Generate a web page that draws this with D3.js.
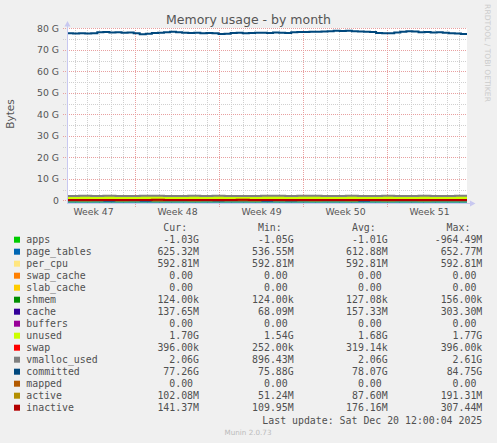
<!DOCTYPE html>
<html>
<head>
<meta charset="utf-8">
<script src="https://cdn.jsdelivr.net/npm/d3@7"></script>
<style>
  html, body { margin: 0; padding: 0; background: #f0f0f0; }
  svg { display: block; }
</style>
</head>
<body>
<div id="chart"></div>
<script>
// --- data (values in G) ---
const committed = [
  77.7, 77.6, 77.7, 77.6, 77.8, 78.2, 78.3, 78.1, 78.2, 78.0,
  78.1, 77.8, 77.3, 77.5, 77.9, 78.0, 78.2, 78.5, 78.2, 78.0,
  77.9, 78.0, 77.8, 77.9, 77.8, 77.4, 77.5, 77.9, 78.0, 77.8,
  77.9, 78.0, 78.0, 77.9, 78.1, 78.0, 77.9, 78.2, 78.3, 78.3,
  78.4, 78.5, 78.6, 78.7, 78.9, 78.8, 78.9, 78.7, 78.6, 78.5,
  78.3, 77.9, 77.7, 77.8, 78.1, 78.5, 78.7, 78.6, 78.2, 78.3,
  78.1, 78.2, 78.0, 77.8, 77.6, 77.4, 77.3
];
const apps = [
  -1.01, -1.00, -1.02, -0.99, -1.01, -1.03, -1.00, -0.98, -1.02, -1.01,
  -1.04, -1.00, -0.99, -1.02, -1.01, -1.03, -1.00, -1.02, -0.97, -1.01,
  -1.04, -1.00, -1.02, -1.01, -0.99, -1.03, -1.01, -1.00, -1.02, -1.05,
  -1.01, -1.00, -1.02, -1.03
];
const pageTables = [
  0.61, 0.62, 0.60, 0.63, 0.61, 0.62, 0.64, 0.60, 0.61, 0.63,
  0.62, 0.61, 0.64, 0.62, 0.60, 0.61, 0.63, 0.62, 0.65, 0.61,
  0.60, 0.62, 0.61, 0.63, 0.62, 0.60, 0.61, 0.62, 0.64, 0.61,
  0.62, 0.60, 0.61, 0.63
];
const perCpu = [
  0.593, 0.593, 0.593, 0.593, 0.593, 0.593, 0.593, 0.593, 0.593, 0.593,
  0.593, 0.593, 0.593, 0.593, 0.593, 0.593, 0.593, 0.593, 0.593, 0.593,
  0.593, 0.593, 0.593, 0.593, 0.593, 0.593, 0.593, 0.593, 0.593, 0.593,
  0.593, 0.593, 0.593, 0.593
];
const cache = [
  0.14, 0.16, 0.15, 0.18, 0.14, 0.13, 0.16, 0.20, 0.15, 0.14,
  0.17, 0.15, 0.16, 0.13, 0.30, 0.15, 0.14, 0.16, 0.15, 0.17,
  0.14, 0.15, 0.16, 0.14, 0.18, 0.15, 0.13, 0.16, 0.15, 0.14,
  0.17, 0.15, 0.14, 0.14
];
const unused = [
  1.68, 1.70, 1.66, 1.72, 1.69, 1.65, 1.70, 1.74, 1.67, 1.68,
  1.71, 1.66, 1.69, 1.64, 1.55, 1.70, 1.68, 1.72, 1.67, 1.69,
  1.71, 1.66, 1.68, 1.70, 1.65, 1.69, 1.72, 1.67, 1.68, 1.70,
  1.66, 1.69, 1.71, 1.70
];
const vmallocUsed = [
  2.05, 2.07, 2.04, 2.10, 2.06, 2.03, 2.08, 2.12, 2.05, 2.06,
  2.09, 2.04, 2.07, 2.02, 2.05, 2.06, 2.08, 2.10, 2.05, 2.07,
  2.09, 2.04, 2.06, 2.08, 2.03, 2.06, 2.10, 2.05, 2.06, 2.08,
  2.04, 2.06, 2.09, 2.06
];
const mapped = [
  0, 0, 0, 0, 0, 0, 0, 0, 0, 0, 0, 0, 0, 0, 0, 0, 0,
  0, 0, 0, 0, 0, 0, 0, 0, 0, 0, 0, 0, 0, 0, 0, 0, 0
];
const active = [
  0.09, 0.08, 0.10, 0.09, 0.07, 0.09, 0.11, 0.08, 0.09, 0.10,
  0.08, 0.09, 0.07, 0.09, 0.19, 0.08, 0.09, 0.10, 0.08, 0.09,
  0.07, 0.09, 0.10, 0.08, 0.09, 0.09, 0.08, 0.10, 0.09, 0.08,
  0.09, 0.10, 0.09, 0.10
];
const inactive = [
  0.17, 0.18, 0.16, 0.19, 0.17, 0.15, 0.18, 0.21, 0.17, 0.16,
  0.19, 0.17, 0.18, 0.15, 0.31, 0.17, 0.16, 0.18, 0.17, 0.19,
  0.16, 0.17, 0.18, 0.16, 0.20, 0.17, 0.15, 0.18, 0.17, 0.16,
  0.19, 0.17, 0.15, 0.14
];
const yTicks = [0, 10, 20, 30, 40, 50, 60, 70, 80];

// legend
const legendNames = ["apps", "page_tables", "per_cpu", "swap_cache", "slab_cache", "shmem", "cache",
  "buffers", "unused", "swap", "vmalloc_used", "committed", "mapped", "active", "inactive"];
const legendColors = ["#00cc00", "#0066b3", "#ffe680", "#ff8000", "#ffcc00", "#008f00", "#330099",
  "#990099", "#ccff00", "#ff0000", "#808080", "#00487d", "#b35a00", "#b38f00", "#b30000"];
const curVals = ["-1.03G", "625.32M", "592.81M", "0.00", "0.00", "124.00k", "137.65M",
  "0.00", "1.70G", "396.00k", "2.06G", "77.26G", "0.00", "102.08M", "141.37M"];
const minVals = ["-1.05G", "536.55M", "592.81M", "0.00", "0.00", "124.00k", "68.09M",
  "0.00", "1.54G", "252.00k", "896.43M", "75.88G", "0.00", "51.24M", "109.95M"];
const avgVals = ["-1.01G", "612.88M", "592.81M", "0.00", "0.00", "127.08k", "157.33M",
  "0.00", "1.68G", "319.14k", "2.06G", "78.07G", "0.00", "87.60M", "176.16M"];
const maxVals = ["-964.49M", "652.77M", "592.81M", "0.00", "0.00", "156.00k", "303.30M",
  "0.00", "1.77G", "396.00k", "2.61G", "84.75G", "0.00", "191.31M", "307.44M"];

// --- layout ---
const W = 497, H = 443;
const sans = "DejaVu Sans, sans-serif";
const mono = "DejaVu Sans Mono, monospace";
const start = new Date(2025, 10, 18, 8);
const end = new Date(2025, 11, 21, 16);

const svg = d3.select("#chart").append("svg")
  .attr("width", W).attr("height", H);

svg.append("rect").attr("width", W).attr("height", H).attr("fill", "#f0f0f0");

const x = d3.scaleTime().domain([start, end]).range([67, 467]);
const y = d3.scaleLinear().domain([-1.25, 80.2]).range([203, 28]);

// plot background
svg.append("rect")
  .attr("x", x.range()[0]).attr("y", y.range()[1])
  .attr("width", x.range()[1] - x.range()[0])
  .attr("height", y.range()[0] - y.range()[1])
  .attr("fill", "#ffffff");

// grid
const grid = svg.append("g").attr("shape-rendering", "crispEdges");
const minorY = d3.range(5, 80, 10);
grid.selectAll(".hminor").data(minorY).join("line")
  .attr("x1", 63).attr("x2", 467)
  .attr("y1", d => Math.round(y(d)) + 0.5).attr("y2", d => Math.round(y(d)) + 0.5)
  .attr("stroke", "#d0d0d0").attr("stroke-dasharray", "1,1");
grid.selectAll(".vminor").data(d3.timeDay.range(start, end)).join("line")
  .attr("x1", d => Math.round(x(d)) + 0.5).attr("x2", d => Math.round(x(d)) + 0.5)
  .attr("y1", 28).attr("y2", 203)
  .attr("stroke", "#d0d0d0").attr("stroke-dasharray", "1,1");
grid.selectAll(".hmajor").data(yTicks).join("line")
  .attr("x1", 63).attr("x2", 467)
  .attr("y1", d => Math.round(y(d)) + 0.5).attr("y2", d => Math.round(y(d)) + 0.5)
  .attr("stroke", "#e8a0a0").attr("stroke-dasharray", "1,1");
grid.selectAll(".vmajor").data(d3.timeMonday.range(start, end)).join("line")
  .attr("x1", d => Math.round(x(d)) + 0.5).attr("x2", d => Math.round(x(d)) + 0.5)
  .attr("y1", 28).attr("y2", 207)
  .attr("stroke", "#e8a0a0").attr("stroke-dasharray", "1,1");

// clip
svg.append("clipPath").attr("id", "clip").append("rect")
  .attr("x", 67).attr("y", 28).attr("width", 400).attr("height", 175);
const plot = svg.append("g").attr("clip-path", "url(#clip)");

// stacked areas (rrd STACK, apps starts from 0)
const n = apps.length;
const stackTime = i => new Date(+start + (end - start) * i / (n - 1));
const stackSeries = [apps, pageTables, perCpu, cache, unused];
const stackColors = ["#00cc00", "#0066b3", "#ffe680", "#330099", "#ccff00"];
let base = apps.map(() => 0);
stackSeries.forEach((s, k) => {
  const pts = s.map((v, i) => ({ t: stackTime(i), y0: base[i], y1: base[i] + v }));
  base = pts.map(p => p.y1);
  plot.append("path").datum(pts)
    .attr("fill", stackColors[k])
    .attr("d", d3.area().curve(d3.curveStepAfter)
      .x(d => x(d.t)).y0(d => y(d.y0)).y1(d => y(d.y1)));
});

// lines
function drawLine(vals, color) {
  const m = vals.length;
  plot.append("path")
    .datum(vals.map((v, i) => ({ t: new Date(+start + (end - start) * i / (m - 1)), v })))
    .attr("fill", "none").attr("stroke", color).attr("stroke-width", 2)
    .attr("d", d3.line().curve(d3.curveStepAfter).x(d => x(d.t)).y(d => y(d.v)));
}
drawLine(vmallocUsed, "#808080");
drawLine(committed, "#00487d");
drawLine(mapped, "#b35a00");
drawLine(active, "#b38f00");
drawLine(inactive, "#b30000");

// axes lines + arrows
const axisColor = "#c8c8f0";
svg.append("line").attr("x1", 67.5).attr("x2", 67.5).attr("y1", 26).attr("y2", 203)
  .attr("stroke", axisColor);
svg.append("line").attr("x1", 67).attr("x2", 470).attr("y1", 203.5).attr("y2", 203.5)
  .attr("stroke", axisColor);
svg.append("path").attr("d", "M64.5,26.5L70.5,26.5L67.5,21Z").attr("fill", axisColor);
svg.append("path").attr("d", "M470,200.5L470,206.5L475.5,203.5Z").attr("fill", axisColor);

// y axis labels
const yAxis = svg.append("g").attr("transform", "translate(67,0)")
  .call(d3.axisLeft(y).tickValues(yTicks).tickSize(0).tickPadding(8)
    .tickFormat(d => d === 0 ? "0" : d + " G"));
yAxis.select(".domain").remove();
yAxis.selectAll("text").attr("font-family", sans).attr("font-size", 9.3).attr("fill", "#555");

// x axis labels, centered on each week
const weekMids = d3.timeMonday.range(d3.timeMonday.floor(start), end)
  .map(d => d3.timeHour.offset(d, 84)).filter(d => d > start && d < end);
const xAxis = svg.append("g").attr("transform", "translate(0,203)")
  .call(d3.axisBottom(x).tickValues(weekMids).tickSize(0).tickPadding(5)
    .tickFormat(d3.timeFormat("Week %V")));
xAxis.select(".domain").remove();
xAxis.selectAll("text").attr("font-family", sans).attr("font-size", 9.3).attr("fill", "#555");

// title and labels
svg.append("text").attr("x", 248.5).attr("y", 24).attr("text-anchor", "middle")
  .attr("font-family", sans).attr("font-size", 12.5).attr("fill", "#555")
  .text("Memory usage - by month");
svg.append("text").attr("transform", "translate(14,114) rotate(-90)")
  .attr("text-anchor", "middle").attr("font-family", sans).attr("font-size", 10.5)
  .attr("fill", "#555").text("Bytes");
svg.append("text").attr("transform", "translate(485,53) rotate(90)")
  .attr("text-anchor", "middle").attr("font-family", sans).attr("font-size", 7.6)
  .attr("fill", "#cccccc").text("RRDTOOL / TOBI OETIKER");

// legend
const cw = 5.96;
const colEnds = [199, 293.7, 387.7, 482.3];
const headers = ["Cur:", "Min:", "Avg:", "Max:"];
const leg = svg.append("g").attr("font-family", mono).attr("font-size", 9.9).attr("fill", "#505050");
headers.forEach((h, j) => {
  leg.append("text").attr("x", colEnds[j] - 2 * cw).attr("y", 231)
    .attr("text-anchor", "end").text(h);
});
const cols = [curVals, minVals, avgVals, maxVals];
legendNames.forEach((name, i) => {
  const yy = 243.2 + i * 12;
  leg.append("rect").attr("x", 14).attr("y", yy - 6.5).attr("width", 6).attr("height", 6)
    .attr("fill", legendColors[i]);
  leg.append("text").attr("x", 26.3).attr("y", yy).text(name);
  cols.forEach((c, j) => {
    const s = c[i];
    const hasUnit = /[kMG]$/.test(s);
    leg.append("text").attr("x", colEnds[j] - (hasUnit ? 0 : cw)).attr("y", yy)
      .attr("text-anchor", "end").text(s);
  });
});
leg.append("text").attr("x", 482.3).attr("y", 423.5).attr("text-anchor", "end")
  .text("Last update: Sat Dec 20 12:00:04 2025");

svg.append("text").attr("x", 248).attr("y", 435).attr("text-anchor", "middle")
  .attr("font-family", sans).attr("font-size", 7.2).attr("fill", "#bbbbbb")
  .text("Munin 2.0.73");
</script>
</body>
</html>
